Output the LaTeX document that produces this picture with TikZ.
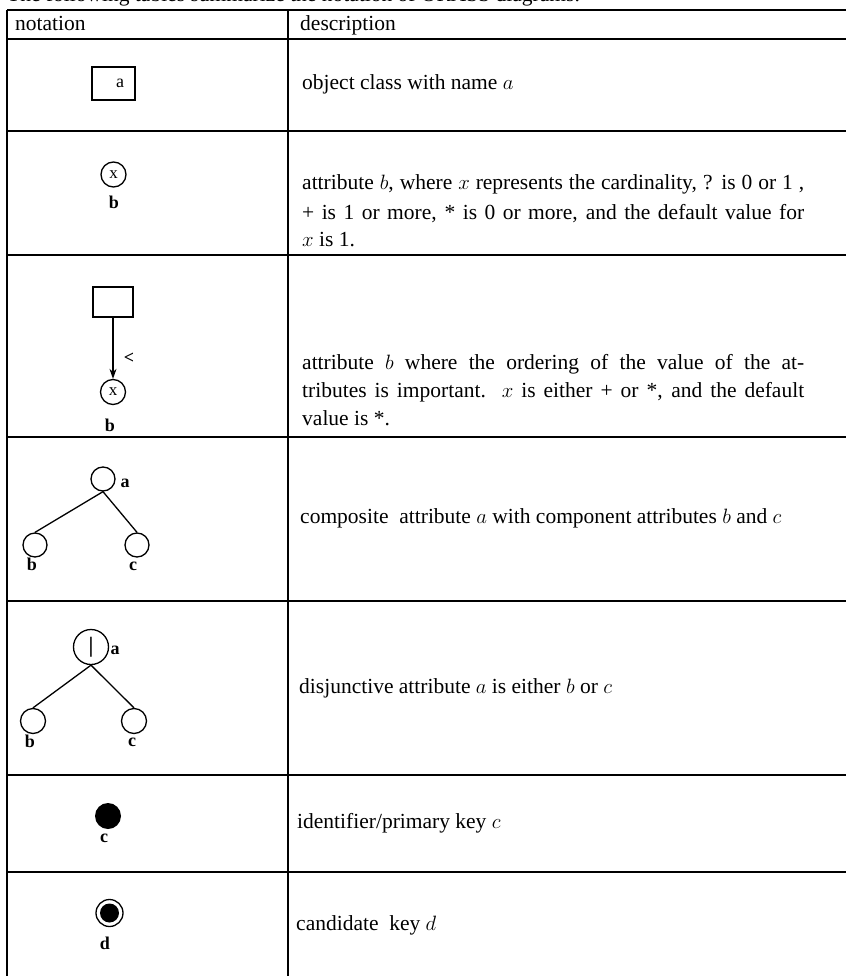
\documentclass[tikz,border=0pt]{standalone}
\usepackage{fontspec}
\setmainfont{Liberation Serif}
\usetikzlibrary{arrows.meta}
\begin{document}
\begin{tikzpicture}[x=1pt,y=-1pt,
    font=\fontsize{21.5}{28}\selectfont,
    rule/.style={line width=1.2pt},
    txt/.style={anchor=base west,inner sep=0pt},
    lbl/.style={inner sep=0pt,font=\fontsize{18}{18}\selectfont\bfseries},
    attr/.style={draw,circle,line width=1.3pt,inner sep=0pt,minimum size=25pt,
                 font=\fontsize{17}{17}\selectfont},
    link/.style={line width=1.3pt}]
    \useasboundingbox (0,0) rectangle (846,976);
    % Caption (cut at the top)
    \node[txt] (caption) at (7,2) {The following tables summarize the notation of ORASS diagrams.};
    % Table rules
    \draw[rule] (7,10) -- (846,10);
    \draw[rule] (7,39) -- (846,39);
    \foreach \y in {131,255,437,601,775,872}
        \draw[rule] (7,\y) -- (846,\y);
    \draw[rule] (7,10) -- (7,976);
    \draw[rule] (288,10) -- (288,976);
    % Header
    \node[txt] (hnotation) at (15,31) {notation};
    \node[txt] (hdescr) at (300,31) {description};
    % Object class box
    \node[draw,line width=1.3pt,minimum width=43pt,minimum height=33pt] (objbox) at (113.5,83.5) {};
    \node[inner sep=0pt,font=\fontsize{18}{18}\selectfont] (objname) at (120,83) {a};
    \node[txt] (descobj) at (302,90) {object class with name $a$};
    % Attribute with cardinality
    \node[attr] (card) at (113.5,174.5) {x};
    \node[lbl] (cardname) at (114,202) {b};
    \node[txt] (desccard1) at (302,190) {\makebox[502pt][s]{attribute $b$, where $x$ represents the cardinality, ? is 0 or 1 ,}};
    \node[txt] (desccard2) at (302,219) {\makebox[502pt][s]{+ is 1 or more, * is 0 or more, and the default value for}};
    \node[txt] (desccard3) at (302,247) {$x$ is 1.};
    % Ordered attribute
    \node[draw,line width=1.3pt,minimum width=40pt,minimum height=30pt] (ordbox) at (113,302) {};
    \node[attr] (ordcirc) at (113,392) {x};
    \draw[link,-{Stealth[length=10pt,width=7pt]}] (ordbox) -- (ordcirc);
    \node[lbl] (ordsym) at (129,358) {<};
    \node[lbl] (ordname) at (110,425) {b};
    \node[txt] (descord1) at (302,369) {\makebox[502pt][s]{attribute $b$ where the ordering of the value of the at-}};
    \node[txt] (descord2) at (302,397) {\makebox[502pt][s]{tributes is important.\ \ $x$ is either + or *, and the default}};
    \node[txt] (descord3) at (302,425) {value is *.};
    % Composite attribute
    \node[attr,minimum size=24pt] (comp) at (103,479) {};
    \node[lbl] (compname) at (125,483) {a};
    \node[attr,minimum size=24pt] (compb) at (35,545) {};
    \node[attr,minimum size=24pt] (compc) at (137,545) {};
    \draw[link] (comp.south) -- (compb.north);
    \draw[link] (comp.south) -- (compc.north);
    \node[lbl] (compbname) at (32,564) {b};
    \node[lbl] (compcname) at (133,566) {c};
    \node[txt] (desccomp) at (300,523) {composite\ \ attribute $a$ with component attributes $b$ and $c$};
    % Disjunctive attribute
    \node[attr,minimum size=35pt,font=\fontsize{22}{22}\selectfont\bfseries] (disj) at (91,647) {|};
    \node[lbl] (disjname) at (115,650) {a};
    \node[attr] (disjb) at (33,721) {};
    \node[attr] (disjc) at (134,721) {};
    \draw[link] (disj.south) -- (disjb.north);
    \draw[link] (disj.south) -- (disjc.north);
    \node[lbl] (disjbname) at (30,741) {b};
    \node[lbl] (disjcname) at (132,742) {c};
    \node[txt] (descdisj) at (299,693) {disjunctive attribute $a$ is either $b$ or $c$};
    % Identifier
    \node[circle,fill,inner sep=0pt,minimum size=26pt] (ident) at (108,816) {};
    \node[lbl] (identname) at (104,838) {c};
    \node[txt] (descident) at (297,828) {identifier/primary key $c$};
    % Candidate key
    \node[attr,minimum size=27pt] (cand) at (109.5,913) {};
    \node[circle,fill,inner sep=0pt,minimum size=19pt] (candcore) at (cand) {};
    \node[lbl] (candname) at (105,943) {d};
    \node[txt] (desccand) at (296,930) {candidate\ \ key $d$};
\end{tikzpicture}
\end{document}
